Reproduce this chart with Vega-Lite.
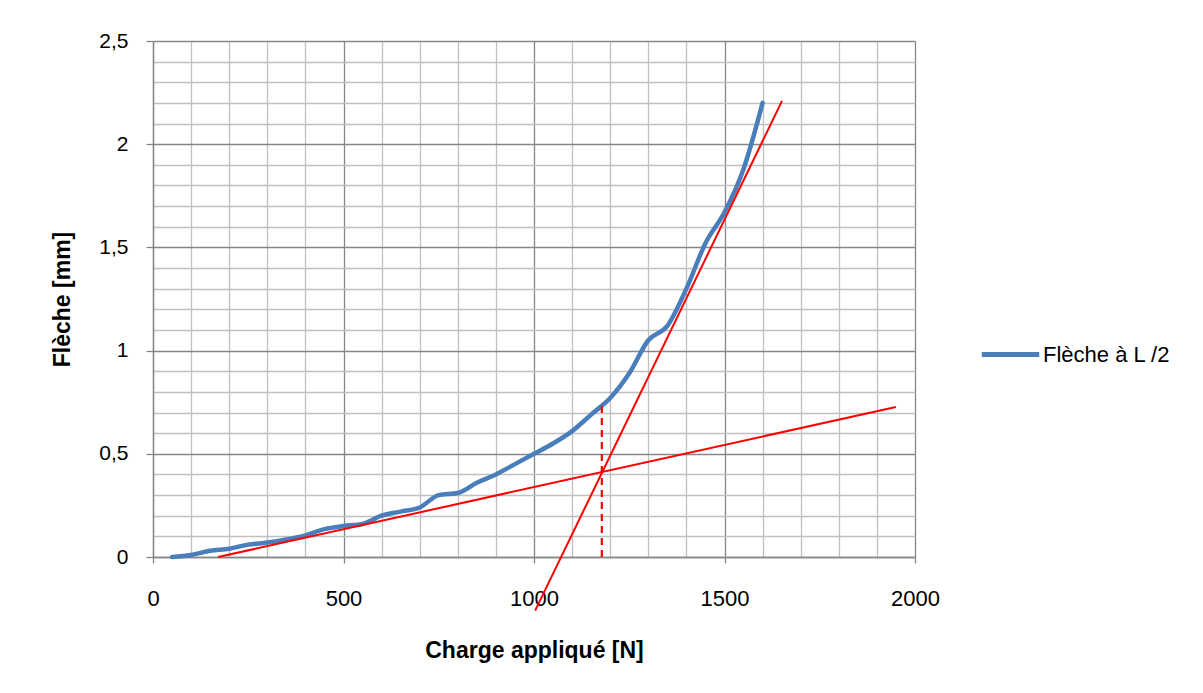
{
  "$schema": "https://vega.github.io/schema/vega-lite/v6.json",
  "width": 762,
  "height": 516,
  "autosize": "none",
  "padding": {"left": 153, "top": 41, "right": 288, "bottom": 136},
  "background": "white",
  "config": {"view": {"stroke": null}, "font": "Liberation Sans"},
  "datasets": {
    "curve": [
      {"charge": 50, "fleche": 0.0, "serie": "Flèche à L /2"},
      {"charge": 100, "fleche": 0.01, "serie": "Flèche à L /2"},
      {"charge": 150, "fleche": 0.03, "serie": "Flèche à L /2"},
      {"charge": 200, "fleche": 0.04, "serie": "Flèche à L /2"},
      {"charge": 250, "fleche": 0.06, "serie": "Flèche à L /2"},
      {"charge": 300, "fleche": 0.07, "serie": "Flèche à L /2"},
      {"charge": 350, "fleche": 0.085, "serie": "Flèche à L /2"},
      {"charge": 400, "fleche": 0.105, "serie": "Flèche à L /2"},
      {"charge": 450, "fleche": 0.135, "serie": "Flèche à L /2"},
      {"charge": 500, "fleche": 0.15, "serie": "Flèche à L /2"},
      {"charge": 550, "fleche": 0.16, "serie": "Flèche à L /2"},
      {"charge": 600, "fleche": 0.2, "serie": "Flèche à L /2"},
      {"charge": 650, "fleche": 0.22, "serie": "Flèche à L /2"},
      {"charge": 700, "fleche": 0.24, "serie": "Flèche à L /2"},
      {"charge": 750, "fleche": 0.3, "serie": "Flèche à L /2"},
      {"charge": 800, "fleche": 0.31, "serie": "Flèche à L /2"},
      {"charge": 850, "fleche": 0.36, "serie": "Flèche à L /2"},
      {"charge": 900, "fleche": 0.4, "serie": "Flèche à L /2"},
      {"charge": 950, "fleche": 0.45, "serie": "Flèche à L /2"},
      {"charge": 1000, "fleche": 0.5, "serie": "Flèche à L /2"},
      {"charge": 1050, "fleche": 0.55, "serie": "Flèche à L /2"},
      {"charge": 1100, "fleche": 0.61, "serie": "Flèche à L /2"},
      {"charge": 1150, "fleche": 0.69, "serie": "Flèche à L /2"},
      {"charge": 1200, "fleche": 0.77, "serie": "Flèche à L /2"},
      {"charge": 1250, "fleche": 0.89, "serie": "Flèche à L /2"},
      {"charge": 1300, "fleche": 1.05, "serie": "Flèche à L /2"},
      {"charge": 1350, "fleche": 1.12, "serie": "Flèche à L /2"},
      {"charge": 1400, "fleche": 1.3, "serie": "Flèche à L /2"},
      {"charge": 1450, "fleche": 1.52, "serie": "Flèche à L /2"},
      {"charge": 1500, "fleche": 1.67, "serie": "Flèche à L /2"},
      {"charge": 1550, "fleche": 1.88, "serie": "Flèche à L /2"},
      {"charge": 1600, "fleche": 2.2, "serie": "Flèche à L /2"}
    ],
    "fits": [
      {"charge": 171, "fleche": 0.0, "ligne": "a"},
      {"charge": 1950, "fleche": 0.727, "ligne": "a"},
      {"charge": 1003, "fleche": -0.26, "ligne": "b"},
      {"charge": 1651, "fleche": 2.21, "ligne": "b"}
    ],
    "marker": [
      {"charge": 1178, "fleche": 0.0},
      {"charge": 1178, "fleche": 0.75}
    ]
  },
  "layer": [
    {
      "data": {"name": "curve"},
      "mark": {"type": "line", "interpolate": "monotone", "strokeWidth": 4.5, "strokeCap": "round", "strokeJoin": "round"},
      "encoding": {
        "x": {
          "field": "charge", "type": "quantitative",
          "scale": {"domain": [0, 2000], "nice": false, "zero": true},
          "axis": {
            "title": "Charge appliqué [N]",
            "titleFont": "Liberation Sans", "titleFontSize": 23, "titleFontWeight": "bold", "titleColor": "black", "titlePadding": 30,
            "values": [0,100,200,300,400,500,600,700,800,900,1000,1100,1200,1300,1400,1500,1600,1700,1800,1900,2000],
            "tickCount": 200,
            "grid": true,
            "gridColor": {"condition": {"test": "datum.value % 500 === 0", "value": "#868686"}, "value": "#c0c0c0"},
            "gridWidth": 1.3,
            "domainColor": "#868686", "domainWidth": 1.3,
            "tickColor": "#868686", "tickSize": 6, "tickWidth": 1.3,
            "tickOpacity": {"condition": {"test": "datum.value % 500 === 0", "value": 1}, "value": 0},
            "labelExpr": "datum.value % 500 === 0 ? format(datum.value, 'd') : ''",
            "labelFont": "Liberation Sans", "labelFontSize": 22, "labelColor": "black", "labelPadding": 25,
            "labelFlush": false, "labelOverlap": false
          }
        },
        "y": {
          "field": "fleche", "type": "quantitative",
          "scale": {"domain": [0, 2.5], "nice": false, "zero": true},
          "axis": {
            "title": "Flèche [mm]",
            "titleFont": "Liberation Sans", "titleFontSize": 23, "titleFontWeight": "bold", "titleColor": "black", "titlePadding": 24,
            "values": [0,0.1,0.2,0.3,0.4,0.5,0.6,0.7,0.8,0.9,1,1.1,1.2,1.3,1.4,1.5,1.6,1.7,1.8,1.9,2,2.1,2.2,2.3,2.4,2.5],
            "tickCount": 200,
            "grid": true,
            "gridColor": {"condition": {"test": "abs(datum.value*2 - round(datum.value*2)) < 1e-6", "value": "#868686"}, "value": "#c0c0c0"},
            "gridWidth": 1.3,
            "domainColor": "#868686", "domainWidth": 1.3,
            "tickColor": "#868686", "tickSize": 7, "tickWidth": 1.3,
            "tickOpacity": {"condition": {"test": "abs(datum.value*2 - round(datum.value*2)) < 1e-6", "value": 1}, "value": 0},
            "labelExpr": "abs(datum.value*2 - round(datum.value*2)) < 1e-6 ? replace(format(datum.value, '~g'), '.', ',') : ''",
            "labelFont": "Liberation Sans", "labelFontSize": 21, "labelColor": "black", "labelPadding": 18,
            "labelFlush": false, "labelOverlap": false
          }
        },
        "color": {
          "field": "serie", "type": "nominal",
          "scale": {"range": ["#4A7EBB"]},
          "legend": {
            "title": null, "orient": "none", "legendX": 826, "legendY": 282,
            "symbolType": "stroke", "symbolStrokeWidth": 5, "symbolSize": 3300,
            "labelFont": "Liberation Sans", "labelFontSize": 22, "labelColor": "black", "labelOffset": 1
          }
        }
      }
    },
    {
      "data": {"name": "fits"},
      "mark": {"type": "line", "color": "#FF0000", "strokeWidth": 2},
      "encoding": {
        "x": {"field": "charge", "type": "quantitative"},
        "y": {"field": "fleche", "type": "quantitative"},
        "detail": {"field": "ligne", "type": "nominal"}
      }
    },
    {
      "data": {"name": "marker"},
      "mark": {"type": "line", "color": "#FF0000", "strokeWidth": 2.2, "strokeDash": [7, 5]},
      "encoding": {
        "x": {"field": "charge", "type": "quantitative"},
        "y": {"field": "fleche", "type": "quantitative"}
      }
    }
  ]
}
